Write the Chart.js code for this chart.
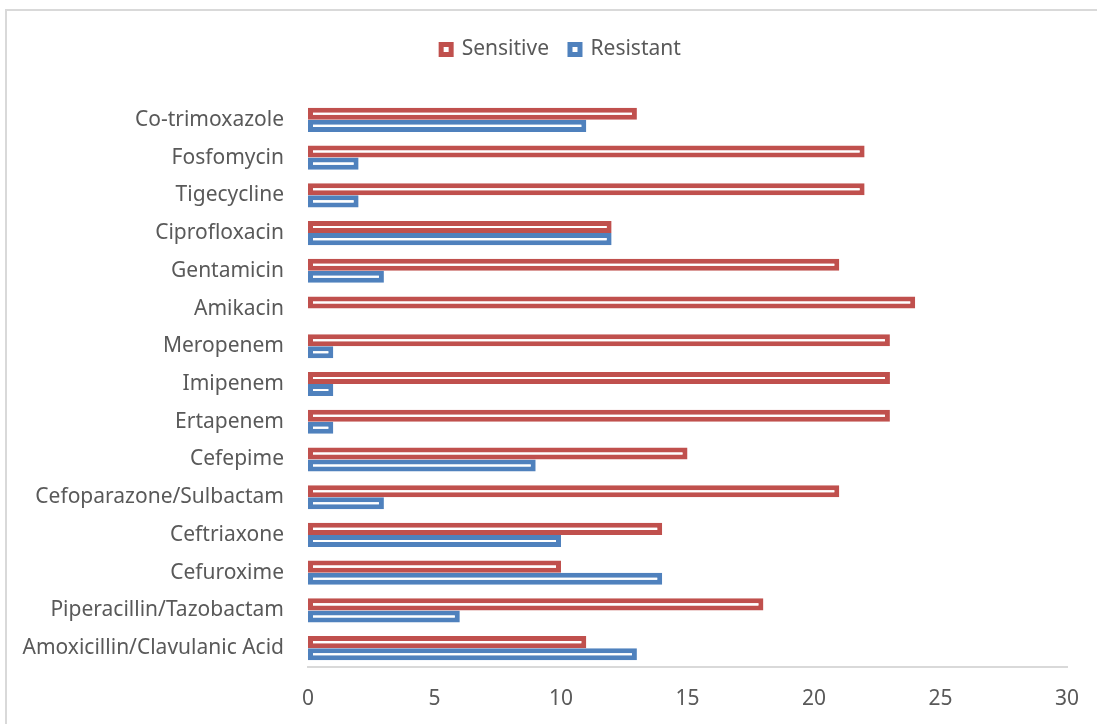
<!DOCTYPE html>
<html>
<head>
<meta charset="utf-8">
<script src="https://cdn.jsdelivr.net/npm/chart.js@4/dist/chart.umd.min.js"></script>
<style>
  html, body { margin: 0; padding: 0; background: #fff; overflow: hidden; }
  #frame { position: absolute; left: 5px; top: 9px; width: 1200px; height: 800px; border: 2px solid #d9d9d9; box-sizing: border-box; }
  #wrap { position: absolute; left: 0; top: 0; width: 1097px; height: 724px; }
</style>
</head>
<body>
<div id="frame"></div>
<div id="wrap"><canvas id="grafico"></canvas></div>
<script>
const antibioticos = [
  "Co-trimoxazole", "Fosfomycin", "Tigecycline", "Ciprofloxacin", "Gentamicin",
  "Amikacin", "Meropenem", "Imipenem", "Ertapenem", "Cefepime",
  "Cefoparazone/Sulbactam", "Ceftriaxone", "Cefuroxime",
  "Piperacillin/Tazobactam", "Amoxicillin/Clavulanic Acid"
];
const sensiveis = [13, 22, 22, 12, 21, 24, 23, 23, 23, 15, 21, 14, 10, 18, 11];
const resistentes = [11, 2, 2, 12, 3, 0, 1, 1, 1, 9, 3, 10, 14, 6, 13];
const ticksX = [0, 5, 10, 15, 20, 25, 30];

const fonte = "'Noto Sans', sans-serif";
const cinza = "#595959";

// espaco extra abaixo da legenda e legenda um pouco para a direita
const ajusteLegenda = {
  id: "ajusteLegenda",
  beforeInit(chart) {
    const fitOriginal = chart.legend.fit;
    chart.legend.fit = function () {
      fitOriginal.bind(chart.legend)();
      this.height += 31;
    };
  },
  afterLayout(chart) {
    chart.legend.left += 55;
  },
};

const ctx = document.getElementById("grafico").getContext("2d");

const chart = new Chart(ctx, {
  type: "bar",
  data: {
    labels: antibioticos,
    datasets: [
      {
        label: "Sensitive",
        data: sensiveis,
        backgroundColor: "#ffffff",
        borderColor: "#c0504d",
        borderWidth: 5,
        borderSkipped: false,
      },
      {
        label: "Resistant",
        data: resistentes,
        backgroundColor: "#ffffff",
        borderColor: "#4f81bd",
        borderWidth: 5,
        borderSkipped: false,
      },
    ],
  },
  plugins: [ajusteLegenda],
  options: {
    indexAxis: "y",
    responsive: true,
    maintainAspectRatio: false,
    animation: false,
    layout: { padding: { top: 18, right: 30, bottom: 0, left: 0 } },
    datasets: { bar: { categoryPercentage: 0.64, barPercentage: 1 } },
    plugins: {
      tooltip: { enabled: false },
      legend: {
        position: "top",
        labels: {
          color: cinza,
          font: { family: fonte, size: 21 },
          boxWidth: 10,
          boxHeight: 10,
          padding: 21,
        },
      },
    },
    scales: {
      x: {
        min: 0,
        max: 30,
        afterBuildTicks: (scale) => {
          scale.ticks = ticksX.map((v) => ({ value: v }));
        },
        afterFit: (scale) => {
          scale.height = 57;
        },
        grid: { display: false },
        border: { display: true, color: "#d9d9d9", width: 2 },
        ticks: {
          color: cinza,
          font: { family: fonte, size: 21 },
          padding: 11,
        },
      },
      y: {
        afterFit: (scale) => {
          scale.width = 308;
        },
        grid: { display: false },
        border: { display: false },
        ticks: {
          color: cinza,
          font: { family: fonte, size: 21 },
          padding: 16,
          autoSkip: false,
        },
      },
    },
  },
});
</script>
</body>
</html>
